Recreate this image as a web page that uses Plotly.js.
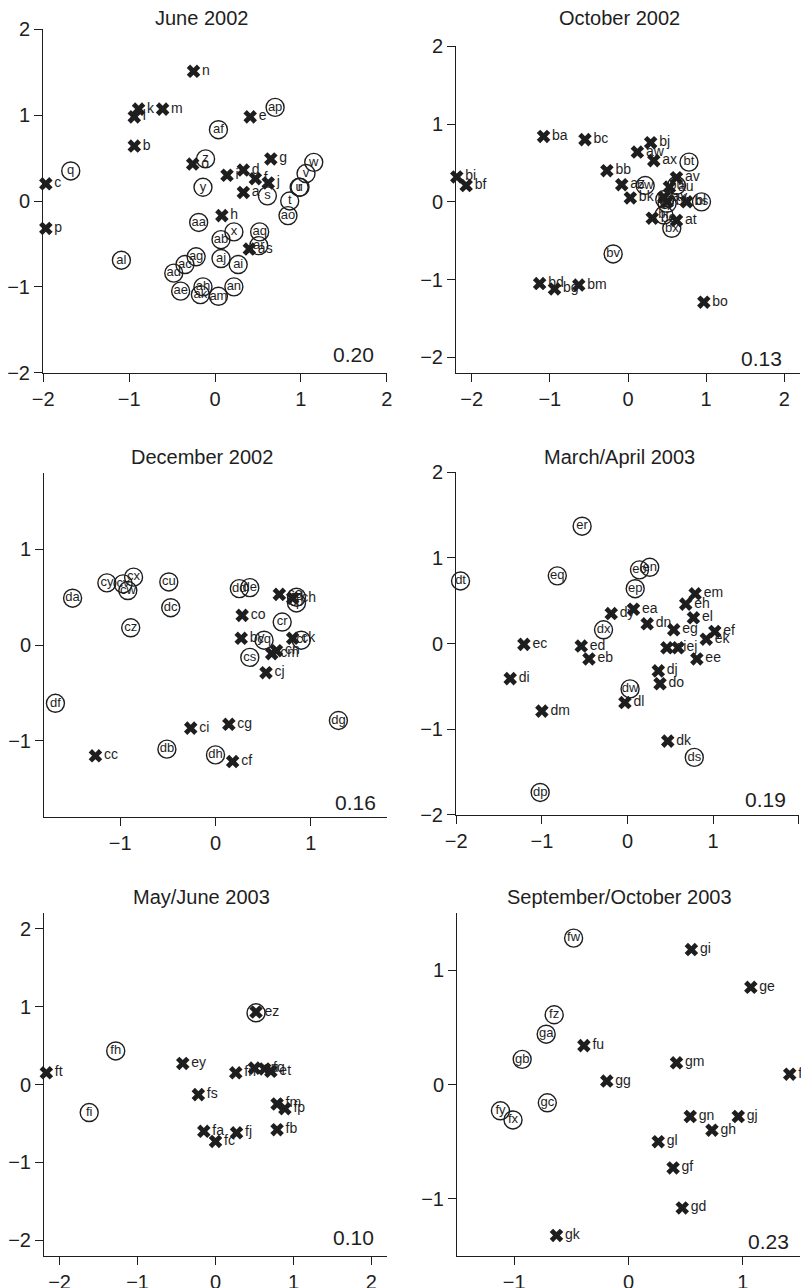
<!DOCTYPE html>
<html>
<head>
<meta charset="utf-8">
<script src="https://cdn.plot.ly/plotly-3.0.1.min.js"></script>
<style>html,body{margin:0;padding:0;background:#fff;}#chart{width:801px;height:1288px;}</style>
</head>
<body>
<div id="chart"></div>
<script>
// ---------- Panel titles and stress values ----------
const panelTitles = ["June 2002", "October 2002", "December 2002", "March/April 2003", "May/June 2003", "September/October 2003"];
const stressValues = ["0.20", "0.13", "0.16", "0.19", "0.10", "0.23"];

// ---------- Panel 1: June 2002 ----------
const p1CircleLabels = ["ap","af","q","z","w","v","u","r","y","s","t","ao","aa","x","aq","ab","ar","al","ag","aj","ai","ac","ad","ae","ah","ak","am","an"];
const p1CircleX = [0.70,0.04,-1.68,-0.11,1.15,1.06,0.98,0.99,-0.14,0.61,0.87,0.85,-0.19,0.22,0.52,0.07,0.51,-1.09,-0.22,0.07,0.27,-0.35,-0.48,-0.40,-0.14,-0.17,0.04,0.22];
const p1CircleY = [1.09,0.83,0.35,0.49,0.45,0.32,0.16,0.16,0.16,0.06,0.00,-0.17,-0.25,-0.36,-0.36,-0.45,-0.52,-0.69,-0.65,-0.67,-0.74,-0.74,-0.84,-1.05,-1.00,-1.09,-1.11,-1.00];
const p1CrossLabels = ["n","k","l","m","b","e","c","p","g","o","i","d","f","j","a","h","as"];
const p1CrossX = [-0.25,-0.89,-0.94,-0.61,-0.94,0.41,-1.97,-1.97,0.65,-0.26,0.14,0.33,0.47,0.62,0.33,0.08,0.40];
const p1CrossY = [1.51,1.07,0.98,1.07,0.64,0.98,0.20,-0.32,0.49,0.43,0.30,0.36,0.26,0.21,0.10,-0.17,-0.56];

// ---------- Panel 2: October 2002 ----------
const p2CircleLabels = ["bt","bw","bu","bq","bp","br","bs","bx","bv"];
const p2CircleX = [0.78,0.22,0.62,0.47,0.50,0.46,0.94,0.56,-0.19];
const p2CircleY = [0.51,0.21,0.21,0.03,-0.02,-0.17,0.00,-0.34,-0.67];
const p2CrossLabels = ["ba","bc","bj","aw","ax","bi","bf","bb","az","bk","av","au","ay","bh","bl","at","be","bo","bd","bg","bm"];
const p2CrossX = [-1.08,-0.55,0.29,0.12,0.33,-2.19,-2.07,-0.27,-0.08,0.03,0.62,0.53,0.46,0.50,0.75,0.62,0.31,0.97,-1.13,-0.94,-0.63];
const p2CrossY = [0.84,0.80,0.76,0.64,0.53,0.32,0.21,0.40,0.22,0.05,0.31,0.19,0.06,0.00,0.00,-0.24,-0.21,-1.29,-1.05,-1.12,-1.07];

// ---------- Panel 3: December 2002 ----------
const p3CircleLabels = ["da","cy","cv","cw","cx","cu","dc","cz","dd","de","cr","cq","cs","ct","cd","cp","df","db","dh","dg"];
const p3CircleX = [-1.50,-1.14,-0.97,-0.92,-0.86,-0.49,-0.47,-0.89,0.25,0.36,0.70,0.51,0.36,0.90,0.85,0.85,-1.68,-0.51,0.00,1.29];
const p3CircleY = [0.49,0.65,0.64,0.57,0.71,0.66,0.39,0.18,0.59,0.60,0.24,0.05,-0.13,0.05,0.50,0.44,-0.61,-1.09,-1.15,-0.79];
const p3CrossLabels = ["by","cc","ci","cg","cf","cj","co","cm","cn","ck","ce","ch"];
const p3CrossX = [0.27,-1.26,-0.26,0.14,0.18,0.53,0.28,0.59,0.64,0.81,0.67,0.81];
const p3CrossY = [0.07,-1.16,-0.87,-0.83,-1.22,-0.29,0.31,-0.09,-0.06,0.07,0.53,0.49];

// ---------- Panel 4: March/April 2003 ----------
const p4CircleLabels = ["er","dt","eq","eo","en","ep","dx","dw","ds","dp"];
const p4CircleX = [-0.53,-1.95,-0.82,0.14,0.26,0.09,-0.28,0.03,0.78,-1.02];
const p4CircleY = [1.37,0.73,0.79,0.86,0.89,0.64,0.16,-0.53,-1.33,-1.74];
const p4CrossLabels = ["dy","ea","dn","em","eh","el","eg","ef","ek","ei","ej","ee","ec","ed","eb","di","dj","do","dl","dm","dk"];
const p4CrossX = [-0.19,0.07,0.23,0.79,0.68,0.77,0.54,1.02,0.92,0.46,0.59,0.81,-1.21,-0.54,-0.45,-1.37,0.36,0.38,-0.03,-1.00,0.47];
const p4CrossY = [0.35,0.40,0.23,0.58,0.46,0.30,0.16,0.14,0.05,-0.05,-0.05,-0.18,-0.01,-0.03,-0.18,-0.41,-0.32,-0.47,-0.69,-0.79,-1.14];

// ---------- Panel 5: May/June 2003 ----------
const p5CircleLabels = ["", "fh", "fi"];
const p5CircleX = [0.52,-1.28,-1.62];
const p5CircleY = [0.92,0.43,-0.36];
const p5CrossLabels = ["ez","ft","ey","fs","fn","eu","fq","et","fm","fp","fb","fa","fc","fj"];
const p5CrossX = [0.52,-2.17,-0.42,-0.22,0.26,0.50,0.63,0.71,0.79,0.89,0.79,-0.15,0.00,0.27];
const p5CrossY = [0.93,0.15,0.27,-0.13,0.15,0.21,0.20,0.17,-0.25,-0.31,-0.58,-0.60,-0.73,-0.62];

// ---------- Panel 6: September/October 2003 ----------
const p6CircleLabels = ["fw","fz","ga","gb","gc","fy","fx"];
const p6CircleX = [-0.48,-0.65,-0.72,-0.93,-0.71,-1.12,-1.01];
const p6CircleY = [1.28,0.61,0.44,0.22,-0.16,-0.23,-0.31];
const p6CrossLabels = ["gi","ge","fu","gm","gg","fv","gn","gj","gh","gl","gf","gd","gk"];
const p6CrossX = [0.55,1.07,-0.39,0.42,-0.19,1.41,0.54,0.96,0.73,0.26,0.39,0.47,-0.63];
const p6CrossY = [1.18,0.85,0.34,0.19,0.03,0.09,-0.28,-0.28,-0.40,-0.50,-0.73,-1.08,-1.32];

// ---------- Layout geometry (pixels) ----------
const W = 801, H = 1288;
const panels = [
  {circ:[p1CircleLabels,p1CircleX,p1CircleY], cross:[p1CrossLabels,p1CrossX,p1CrossY], px:[43,387], py:[29,373], xr:[-2.003,2.003], yr:[-2.003,2.003], title:[201,18], stress:[376,354]},
  {circ:[p2CircleLabels,p2CircleX,p2CircleY], cross:[p2CrossLabels,p2CrossX,p2CrossY], px:[456,800], py:[46,373], xr:[-2.2,2.2], yr:[-2.2,2.003], title:[619,18], stress:[784,358]},
  {circ:[p3CircleLabels,p3CircleX,p3CircleY], cross:[p3CrossLabels,p3CrossX,p3CrossY], px:[44,387], py:[473,817], xr:[-1.8,1.8], yr:[-1.8,1.8], title:[202,457], stress:[378,802]},
  {circ:[p4CircleLabels,p4CircleX,p4CircleY], cross:[p4CrossLabels,p4CrossX,p4CrossY], px:[456,799], py:[472,815], xr:[-2.003,2.003], yr:[-2.003,2.003], title:[619,457], stress:[788,800]},
  {circ:[p5CircleLabels,p5CircleX,p5CircleY], cross:[p5CrossLabels,p5CrossX,p5CrossY], px:[44,387], py:[913,1256], xr:[-2.2,2.2], yr:[-2.2,2.2], title:[201,897], stress:[376,1237]},
  {circ:[p6CircleLabels,p6CircleX,p6CircleY], cross:[p6CrossLabels,p6CrossX,p6CrossY], px:[457,800], py:[913,1256], xr:[-1.5,1.5], yr:[-1.5,1.5], title:[619,897], stress:[791,1241]}
];

const FONT = "Liberation Sans, Arial, Helvetica, sans-serif";
const INK = "#1e1e1e";
const data = [];
const layout = {
  width: W, height: H,
  margin: {l:0, r:0, t:0, b:0},
  paper_bgcolor: "#fff", plot_bgcolor: "#fff",
  showlegend: false,
  font: {family: FONT, color: INK},
  annotations: []
};

panels.forEach((p, i) => {
  const n = i + 1;
  const xa = n === 1 ? "x" : "x" + n;
  const ya = n === 1 ? "y" : "y" + n;
  const axBase = {
    showline: true, linecolor: INK, linewidth: 1,
    ticks: "outside", ticklen: 8, tickwidth: 1, tickcolor: INK,
    tick0: 0, dtick: 1, showgrid: false, zeroline: false,
    tickfont: {size: 20, color: INK, family: FONT}, fixedrange: true
  };
  layout[n === 1 ? "xaxis" : "xaxis" + n] = Object.assign({}, axBase, {
    domain: [p.px[0] / W, p.px[1] / W], range: p.xr, anchor: ya
  });
  layout[n === 1 ? "yaxis" : "yaxis" + n] = Object.assign({}, axBase, {
    domain: [1 - p.py[1] / H, 1 - p.py[0] / H], range: p.yr, anchor: xa
  });
  // circles (open) with centred labels
  data.push({
    type: "scatter", mode: "markers+text", xaxis: xa, yaxis: ya,
    x: p.circ[1], y: p.circ[2], text: p.circ[0],
    textposition: "middle center", cliponaxis: false,
    textfont: {size: 13, color: INK, family: FONT},
    marker: {symbol: "circle-open", size: 18, color: INK, line: {width: 1.4, color: INK}},
    hoverinfo: "skip"
  });
  // crosses with labels to the right
  data.push({
    type: "scatter", mode: "markers+text", xaxis: xa, yaxis: ya,
    x: p.cross[1], y: p.cross[2], text: p.cross[0],
    textposition: "middle right", cliponaxis: false,
    textfont: {size: 14, color: INK, family: FONT},
    marker: {symbol: "x", size: 12, color: INK, line: {width: 0}},
    hoverinfo: "skip"
  });
  layout.annotations.push({
    xref: "paper", yref: "paper", x: p.title[0] / W, y: 1 - p.title[1] / H,
    xanchor: "center", yanchor: "middle", showarrow: false,
    text: panelTitles[i], font: {size: 20, color: INK, family: FONT}
  });
  layout.annotations.push({
    xref: "paper", yref: "paper", x: p.stress[0] / W, y: 1 - p.stress[1] / H,
    xanchor: "right", yanchor: "middle", showarrow: false,
    text: stressValues[i], font: {size: 21, color: INK, family: FONT}
  });
});

Plotly.newPlot("chart", data, layout, {staticPlot: true, displayModeBar: false});
</script>
</body>
</html>
